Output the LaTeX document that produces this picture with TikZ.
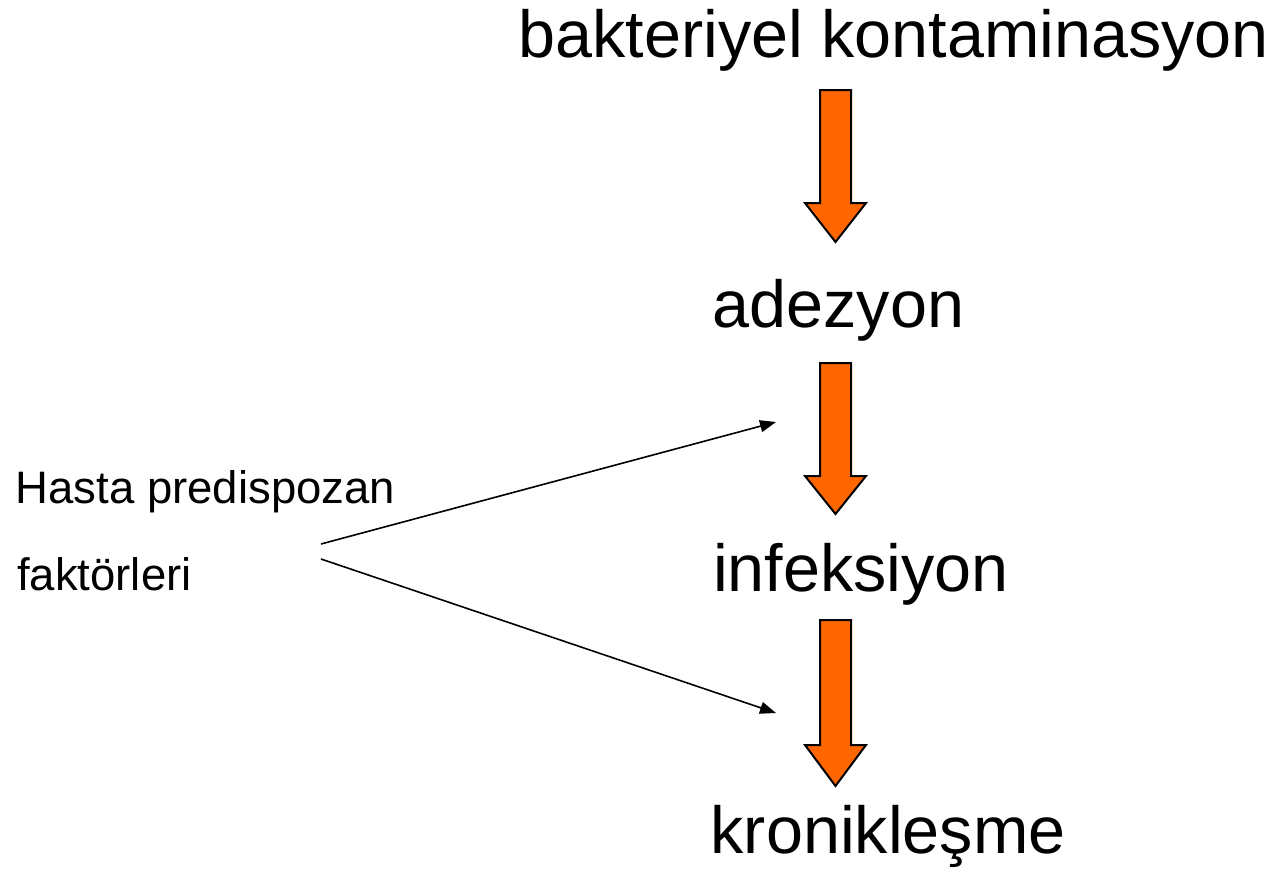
\documentclass[tikz,border=0pt]{standalone}
\usepackage{fontspec}
\setmainfont{Liberation Sans}
\usetikzlibrary{arrows.meta}
\definecolor{flow}{HTML}{FF6600}
\tikzset{
  stage/.style={anchor=base west, inner sep=0pt, font=\fontsize{66.5}{80}\selectfont},
  side/.style={anchor=base west, inner sep=0pt, font=\fontsize{45.5}{55}\selectfont},
  fatarrow/.style={fill=flow, draw=black, line width=2pt, line join=miter},
  thin/.style={line width=1.6pt, -{Triangle[length=16pt,width=12pt]}}
}
% block arrow pointing down: #1 = top of shaft, #2 = start of head, #3 = tip
\newcommand\downblock[3]{%
  \draw[fatarrow] (820,#1) -- (851,#1) -- (851,#2) -- (866,#2) -- (835.5,#3)
    -- (805,#2) -- (820,#2) -- cycle;}
\begin{document}
\begin{tikzpicture}[x=1pt,y=-1pt]
\useasboundingbox (0,0) rectangle (1278,870);
\fill[white] (0,0) rectangle (1278,870);

\node[stage] (cont) at (518.5,57) {bakteriyel kontaminasyon};
\node[stage] (adh)  at (712.5,327) {adezyon};
\node[stage] (inf)  at (713,591) {infeksiyon};
\node[stage] (chr)  at (710.5,853) {kronikleşme};

\node[side] (pat1) at (15.5,503) {Hasta predispozan};
\node[side] (pat2) at (17,590) {faktörleri};

\downblock{90}{203}{242}
\downblock{363}{476}{514}
\downblock{620}{745}{786}

\coordinate (s1) at (321,544);
\coordinate (s2) at (321,559);
\coordinate (t1) at (776,422);
\coordinate (t2) at (776,713);
\draw[thin] (s1) -- (t1);
\draw[thin] (s2) -- (t2);
\end{tikzpicture}
\end{document}
